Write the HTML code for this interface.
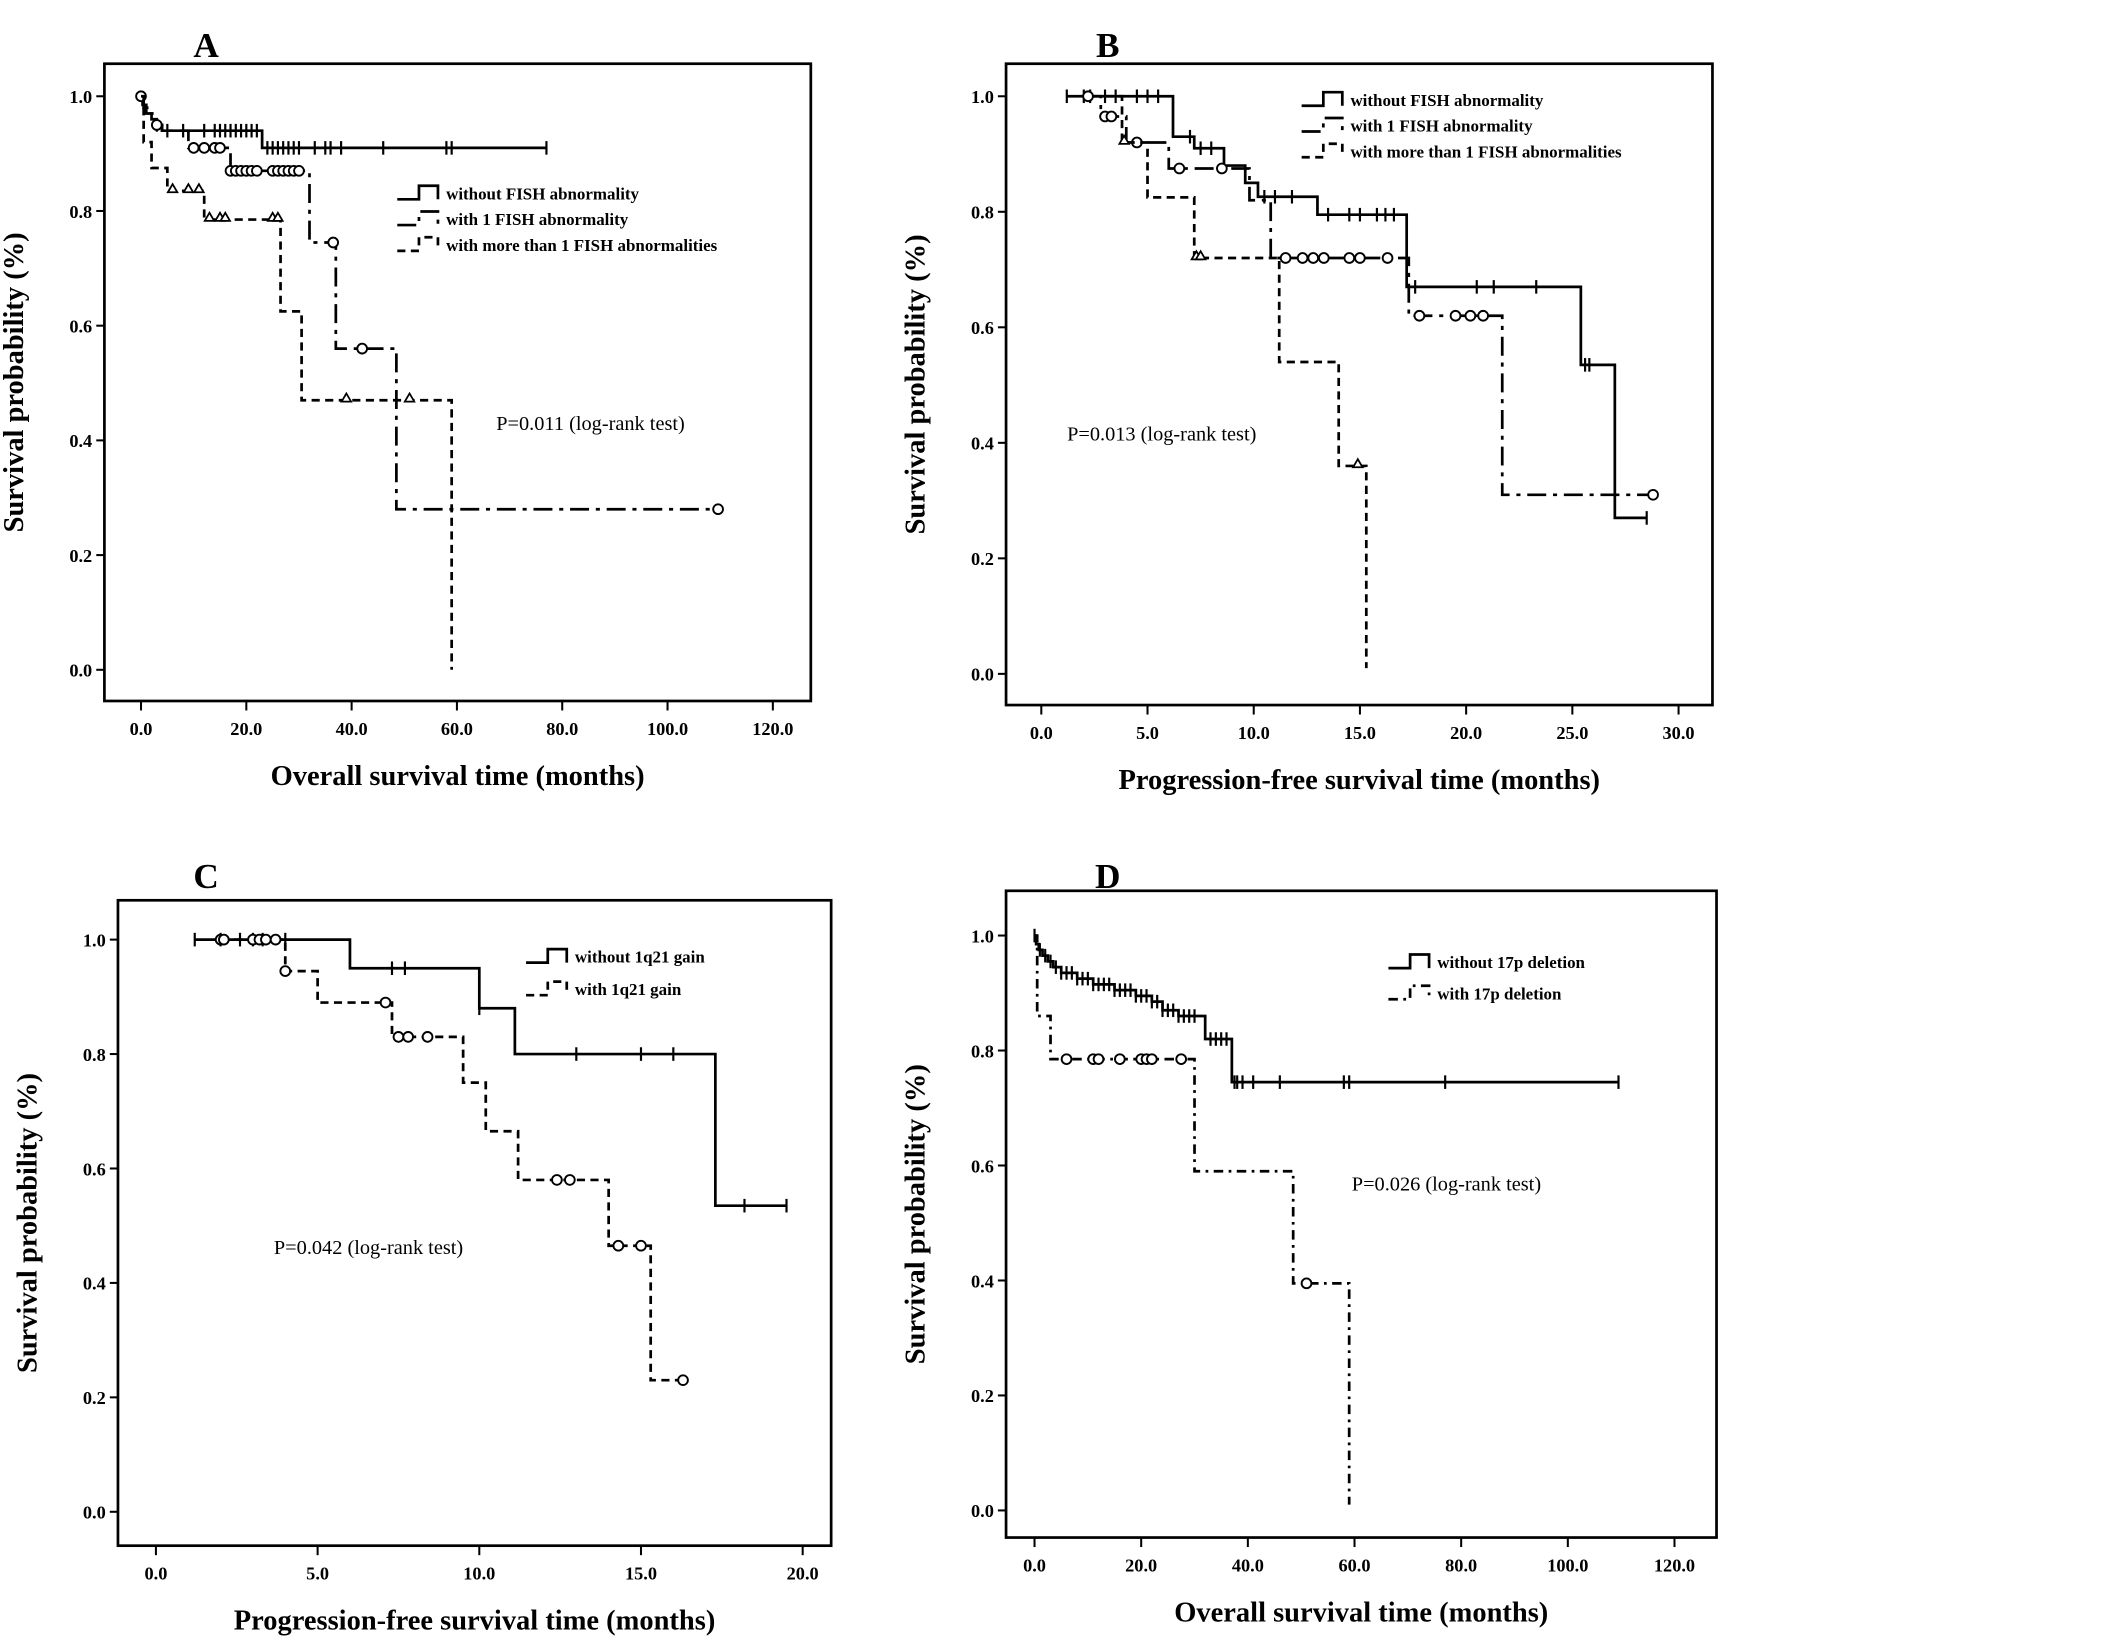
<!DOCTYPE html>
<html><head><meta charset="utf-8"><style>
html,body{margin:0;padding:0;background:#fff;}
svg{display:block;}
text{font-family:"Liberation Serif",serif;fill:#000;}
</style></head><body>
<svg id="fig" width="2126" height="1641" viewBox="0 0 1568 1210.3" xmlns="http://www.w3.org/2000/svg"></svg>
<script>
// ---- Panel A data ----
const aXTicks=[0,20,40,60,80,100,120];
const aNoneT=[0.3,1,2,3,4,23];            const aNoneS=[0.985,0.97,0.96,0.95,0.94,0.91];
const aNoneCens=[3,5,8,12,14,15,16,17,18,19,20,21,22,24,25,26,27,28,29,30,33,35,36,38,46,58,59,77];
const aOneT=[0.5,1.5,2.5,4,9,17,32,37,48.5]; const aOneS=[0.98,0.97,0.95,0.94,0.91,0.87,0.745,0.56,0.28];
const aOneCens=[0,3,10,12,14,15,17,18,19,20,21,22,25,26,27,28,29,30,36.5,42,109.6];
const aMoreT=[0.5,2,5,12,26.5,30.5,59]; const aMoreS=[0.92,0.875,0.835,0.785,0.625,0.47,0];
const aMoreCens=[6,9,11,13,15,16,25,26,39,51];
// ---- Panel B data ----
const bXTicks=[0,5,10,15,20,25,30];
const bNoneT=[6.2,7.2,8.6,9.6,10.2,13,17.2,25.4,27]; const bNoneS=[0.93,0.91,0.88,0.85,0.826,0.795,0.67,0.535,0.27];
const bNoneCens=[1.2,2,2.3,3,3.5,4.5,5,5.5,7,7.5,8,10.5,11,11.8,13.5,14.5,15,15.8,16.2,16.6,17.6,20.5,21.3,23.3,25.6,25.8,28.5];
const bOneT=[2.8,4,6,9.8,10.8,17.3,21.7]; const bOneS=[0.965,0.92,0.875,0.82,0.72,0.62,0.31];
const bOneCens=[2.2,3,3.3,4.5,6.5,8.5,11.5,12.3,12.8,13.3,14.5,15,16.3,17.8,19.5,20.2,20.8,28.8];
const bMoreT=[3.8,5,7.2,11.2,14,15.3]; const bMoreS=[0.92,0.825,0.72,0.54,0.36,0.01];
const bMoreCens=[3.9,7.3,7.5,14.9];
// ---- Panel C data ----
const cXTicks=[0,5,10,15,20];
const cNoneT=[6,10,11.1,17.3]; const cNoneS=[0.95,0.88,0.80,0.535];
const cNoneCens=[1.2,2,2.6,3,3.3,4,7.3,7.7,10,13,15,16,18.2,19.5];
const cDashT=[4,5,7.3,9.5,10.2,11.2,14,15.3]; const cDashS=[0.945,0.89,0.83,0.75,0.665,0.58,0.465,0.23];
const cDashCens=[2,2.1,3,3.2,3.4,3.7,4,7.1,7.5,7.8,8.4,12.4,12.8,14.3,15,16.3];
// ---- Panel D data ----
const dXTicks=[0,20,40,60,80,100,120];
const dNoneT=[0.3,0.8,1.5,2.5,3.5,5,8,11,15,19,22,24,27,32,37]; const dNoneS=[0.985,0.975,0.965,0.955,0.945,0.935,0.925,0.915,0.905,0.895,0.885,0.87,0.86,0.82,0.745];
const dNoneCens=[0,1,2,3,4,5,6,7,8,9,10,11,12,13,14,15,16,17,18,19,20,21,22,23,24,25,26,27,28,29,30,33,34,35,36,37.5,38,39,41,46,58,59,77,109.5];
const dDashT=[0.5,3,30,48.5,59]; const dDashS=[0.86,0.785,0.59,0.395,0.01];
const dDashCens=[6,11,12,16,20,21,22,27.5,51];

const NS="http://www.w3.org/2000/svg";
const svg=document.getElementById('fig');
function mk(tag,attrs,parent){const e=document.createElementNS(NS,tag);for(const k in attrs)e.setAttribute(k,attrs[k]);(parent||svg).appendChild(e);return e;}
function txt(s,attrs,parent){const e=mk('text',attrs,parent);e.textContent=s;return e;}

function panel(cfg){
  const g=mk('g',{});
  
  
  const sx=v=>cfg.x0+(v-cfg.xmin)/(cfg.xmax-cfg.xmin)*(cfg.x1-cfg.x0);
  const sy=v=>cfg.y0+v*(cfg.y1-cfg.y0);
  const box=mk('rect',{x:cfg.bx0,y:cfg.by0,width:cfg.bx1-cfg.bx0,height:cfg.by1-cfg.by0,fill:'none',stroke:'#000','stroke-width':2},g);
  
  
  const lt=txt(cfg.letter,{x:cfg.lx,y:cfg.ly,'font-size':26,'font-weight':'bold','text-anchor':'middle'},g);
  
  
  [0,0.2,0.4,0.6,0.8,1.0].forEach(v=>{
    mk('line',{x1:cfg.bx0-6,x2:cfg.bx0,y1:sy(v),y2:sy(v),stroke:'#000','stroke-width':1.5},g);
    const t=txt(v.toFixed(1),{x:cfg.bx0-9,y:sy(v)+5,'font-size':13.5,'font-weight':'bold','text-anchor':'end'},g);
    
    
  });
  cfg.xticks.forEach(v=>{
    mk('line',{x1:sx(v),x2:sx(v),y1:cfg.by1,y2:cfg.by1+7,stroke:'#000','stroke-width':1.5},g);
    const t=txt(v.toFixed(1),{x:sx(v),y:cfg.by1+25,'font-size':13.5,'font-weight':'bold','text-anchor':'middle'},g);
    
    
  });
  const xt=txt(cfg.xtitle,{x:(cfg.bx0+cfg.bx1)/2,y:cfg.by1+62,'font-size':21,'font-weight':'bold','text-anchor':'middle'},g);
  
  
  const ycx=cfg.bx0-60, ycy=(cfg.by0+cfg.by1)/2;
  const yt=txt('Survival probability (%)',{x:ycx,y:ycy,'font-size':21,'font-weight':'bold','text-anchor':'middle',transform:`rotate(-90 ${ycx} ${ycy})`},g);
  
  
  const pt=txt(cfg.ptext,{x:cfg.px,y:cfg.py,'font-size':15},g);
  
  

  cfg.series.forEach((s,si)=>{
    const start=s.start||0;
    let d=`M${sx(start)},${sy(1)}`;
    s.t.forEach((t,i)=>{d+=` H${sx(t)} V${sy(s.s[i])}`;});
    const end=Math.max(s.t[s.t.length-1],...s.c);
    d+=` H${sx(end)}`;
    const p=mk('path',{d,fill:'none',stroke:'#000','stroke-width':2,'stroke-dasharray':s.dash||'none'},g);
    
    
    const f=t=>{let v=1;s.t.forEach((tt,i)=>{if(tt<=t)v=s.s[i];});return v;};
    s.c.forEach(t=>{
      const X=sx(t),Y=sy(f(t));let m;
      if(s.mark==='plus') m=mk('path',{d:`M${X},${Y-5}V${Y+5}`,stroke:'#000','stroke-width':1.6},g);
      else if(s.mark==='circle') m=mk('circle',{cx:X,cy:Y,r:3.6,fill:'#fff',stroke:'#000','stroke-width':1.4},g);
      else m=mk('path',{d:`M${X-3.5},${Y+1}L${X},${Y-5}L${X+3.5},${Y+1}Z`,fill:'#fff',stroke:'#000','stroke-width':1.3},g);
      
      
    });
    const ly=cfg.legY+si*cfg.legDy;
    const lx=cfg.legX;
    const sym=mk('path',{d:`M${lx},${ly+4}H${lx+16}V${ly-6}H${lx+30}V${ly+4}`,fill:'none',stroke:'#000','stroke-width':2,'stroke-dasharray':s.dash||'none'},g);
    
    
    const lt2=txt(s.label,{x:lx+36,y:ly+4,'font-size':12.5,'font-weight':'bold'},g);
    
    
  });
}

panel({name:'panel-a',letter:'A',lx:152,ly:42,bx0:77,bx1:598,by0:47,by1:517,x0:104,x1:570,xmin:0,xmax:120,y0:494,y1:71,
  xticks:aXTicks,xtitle:'Overall survival time (months)',ptext:'P=0.011  (log-rank test)',px:366,py:317,legX:293,legY:143,legDy:19,
  series:[
   {name:'without-fish',t:aNoneT,s:aNoneS,c:aNoneCens,mark:'plus',label:'without FISH abnormality'},
   {name:'one-fish',t:aOneT,s:aOneS,c:aOneCens,mark:'circle',dash:'14,5,3,5',label:'with 1 FISH abnormality'},
   {name:'more-fish',t:aMoreT,s:aMoreS,c:aMoreCens,mark:'tri',dash:'6,4',label:'with more than 1 FISH abnormalities'}]});
panel({name:'panel-b',letter:'B',lx:817,ly:42,bx0:742,bx1:1263,by0:47,by1:520,x0:768,x1:1238,xmin:0,xmax:30,y0:497,y1:71,
  xticks:bXTicks,xtitle:'Progression-free survival time (months)',ptext:'P=0.013  (log-rank test)',px:787,py:325,legX:960,legY:74,legDy:19,
  series:[
   {name:'without-fish',start:1.2,t:bNoneT,s:bNoneS,c:bNoneCens,mark:'plus',label:'without FISH abnormality'},
   {name:'one-fish',start:2,t:bOneT,s:bOneS,c:bOneCens,mark:'circle',dash:'14,5,3,5',label:'with 1 FISH abnormality'},
   {name:'more-fish',start:3,t:bMoreT,s:bMoreS,c:bMoreCens,mark:'tri',dash:'6,4',label:'with more than 1 FISH abnormalities'}]});
panel({name:'panel-c',letter:'C',lx:152,ly:655,bx0:87,bx1:613,by0:664,by1:1140,x0:115,x1:592,xmin:0,xmax:20,y0:1115,y1:693,
  xticks:cXTicks,xtitle:'Progression-free survival time (months)',ptext:'P=0.042  (log-rank test)',px:202,py:925,legX:388,legY:706,legDy:24,
  series:[
   {name:'without-1q21-gain',start:1.2,t:cNoneT,s:cNoneS,c:cNoneCens,mark:'plus',label:'without 1q21 gain'},
   {name:'with-1q21-gain',start:2,t:cDashT,s:cDashS,c:cDashCens,mark:'circle',dash:'6,4',label:'with 1q21 gain'}]});
panel({name:'panel-d',letter:'D',lx:817,ly:655,bx0:742,bx1:1266,by0:657,by1:1134,x0:763,x1:1235,xmin:0,xmax:120,y0:1114,y1:690,
  xticks:dXTicks,xtitle:'Overall survival time (months)',ptext:'P=0.026  (log-rank test)',px:997,py:878,legX:1024,legY:710,legDy:23,
  series:[
   {name:'without-17p-deletion',t:dNoneT,s:dNoneS,c:dNoneCens,mark:'plus',label:'without 17p deletion'},
   {name:'with-17p-deletion',t:dDashT,s:dDashS,c:dDashCens,mark:'circle',dash:'7,4,2,4',label:'with 17p deletion'}]});
</script>
</body></html>
